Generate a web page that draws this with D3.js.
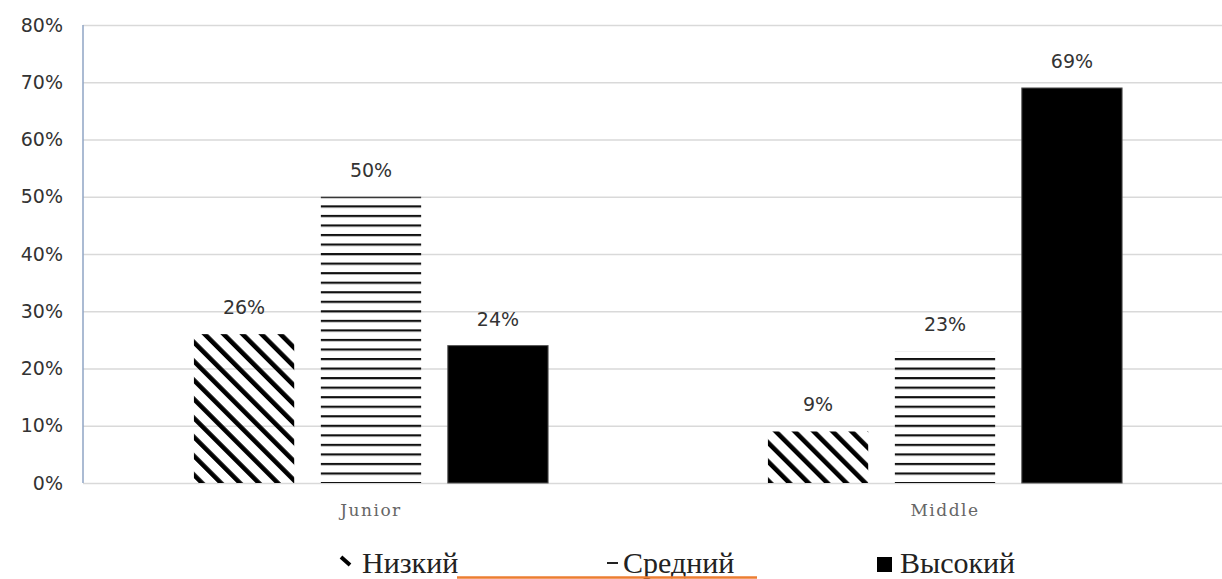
<!DOCTYPE html>
<html>
<head>
<meta charset="utf-8">
<script src="https://cdn.jsdelivr.net/npm/d3@7"></script>
<style>
  body { margin: 0; background: #fff; }
  .tick-label { font-family: "DejaVu Sans", sans-serif; font-size: 19px; fill: #333; }
  .value-label { font-family: "DejaVu Sans", sans-serif; font-size: 19px; fill: #333; }
  .cat-label { font-family: "DejaVu Serif", serif; font-size: 17px; fill: #666; letter-spacing: 1.5px; }
  .legend-label { font-family: "Liberation Serif", serif; font-size: 30px; fill: #222; }
</style>
</head>
<body>
<svg id="chart" width="1222" height="579"></svg>
<script>
// data
const categories = ['Junior', 'Middle'];
const series = ['Низкий', 'Средний', 'Высокий'];
const juniorValues = [26, 50, 24];
const middleValues = [9, 23, 69];
const yTicks = [0, 10, 20, 30, 40, 50, 60, 70, 80];

const values = { Junior: juniorValues, Middle: middleValues };
const data = categories.flatMap(c =>
  series.map((s, i) => ({ category: c, series: s, value: values[c][i] })));

const svg = d3.select('#chart');
const margin = { left: 83, top: 25, bottom: 96 };
const width = +svg.attr('width');
const height = +svg.attr('height');
const plotLeft = 84;
const plotRight = 1232;
const baseY = height - margin.bottom;

const yScale = d3.scaleLinear()
  .domain([0, 80])
  .range([baseY, margin.top]);

// patterns for the first two series
const defs = svg.append('defs');
const diag = defs.append('pattern')
  .attr('id', 'diag')
  .attr('patternUnits', 'userSpaceOnUse')
  .attr('width', 13.4)
  .attr('height', 13.4)
  .attr('patternTransform', 'rotate(-45)');
diag.append('rect')
  .attr('width', 4.6)
  .attr('height', 13.4)
  .attr('fill', '#000');

const horiz = defs.append('pattern')
  .attr('id', 'horiz')
  .attr('patternUnits', 'userSpaceOnUse')
  .attr('width', 20)
  .attr('height', 9.54)
  .attr('y', baseY - 1);
horiz.append('rect')
  .attr('width', 20)
  .attr('height', 2.2)
  .attr('fill', '#111');

const fills = { 'Низкий': 'url(#diag)', 'Средний': 'url(#horiz)', 'Высокий': '#000' };

const x0 = d3.scaleBand()
  .domain(categories)
  .range([plotLeft, plotRight]);

const x1 = d3.scaleBand()
  .domain(series)
  .range([0, x0.bandwidth()])
  .paddingInner(0.21)
  .paddingOuter(0.866);

// gridlines + tick labels
const yAxis = d3.axisLeft(yScale)
  .tickValues(yTicks)
  .tickSize(-(width - margin.left))
  .tickFormat(d => d + '%');

const yAxisG = svg.append('g')
  .attr('transform', `translate(${margin.left},0)`)
  .call(yAxis);
yAxisG.select('.domain').remove();
yAxisG.selectAll('.tick line')
  .attr('stroke', '#d9d9d9')
  .attr('stroke-width', 1.5);
yAxisG.selectAll('.tick text')
  .attr('class', 'tick-label')
  .attr('x', -20);

svg.append('line')
  .attr('x1', margin.left).attr('x2', margin.left)
  .attr('y1', yScale(80)).attr('y2', baseY)
  .attr('stroke', '#8fa5c4')
  .attr('stroke-width', 1.5);

// bars
svg.append('g').selectAll('rect')
  .data(data)
  .enter().append('rect')
    .attr('x', d => x0(d.category) + x1(d.series))
    .attr('y', d => yScale(d.value))
    .attr('width', x1.bandwidth())
    .attr('height', d => baseY - yScale(d.value))
    .attr('fill', d => fills[d.series])
    .attr('stroke', d => d.series === 'Высокий' ? '#555' : 'none')
    .attr('stroke-width', 1);

// value labels
svg.append('g').selectAll('text')
  .data(data)
  .enter().append('text')
    .attr('class', 'value-label')
    .attr('text-anchor', 'middle')
    .attr('x', d => x0(d.category) + x1(d.series) + x1.bandwidth() / 2)
    .attr('y', d => yScale(d.value) - 20)
    .text(d => d.value + '%');

// category labels
svg.append('g').selectAll('text')
  .data(categories)
  .enter().append('text')
    .attr('class', 'cat-label')
    .attr('text-anchor', 'middle')
    .attr('x', d => x0(d) + x0.bandwidth() / 2)
    .attr('y', baseY + 33)
    .text(d => d);

// legend
const legendX = [338, 607, 877];
const legendY = 573;
const items = svg.append('g').selectAll('g')
  .data(series)
  .enter().append('g')
    .attr('transform', (d, i) => `translate(${legendX[i]},${legendY})`);
items.filter(d => d === 'Низкий').append('line')
  .attr('x1', 3).attr('y1', -16).attr('x2', 12).attr('y2', -8)
  .attr('stroke', '#000').attr('stroke-width', 4);
items.filter(d => d === 'Средний').append('line')
  .attr('x1', 0).attr('y1', -10).attr('x2', 11).attr('y2', -10)
  .attr('stroke', '#222').attr('stroke-width', 2);
items.filter(d => d === 'Высокий').append('rect')
  .attr('x', 0).attr('y', -16).attr('width', 15).attr('height', 15)
  .attr('fill', '#000');
items.append('text')
  .attr('class', 'legend-label')
  .attr('x', (d, i) => [24, 16, 23][i])
  .text(d => d);

// orange accent line at the bottom edge
svg.append('line')
  .attr('x1', 457).attr('x2', 757)
  .attr('y1', 577.5).attr('y2', 577.5)
  .attr('stroke', '#ec7d31')
  .attr('stroke-width', 2.5);
</script>
</body>
</html>
